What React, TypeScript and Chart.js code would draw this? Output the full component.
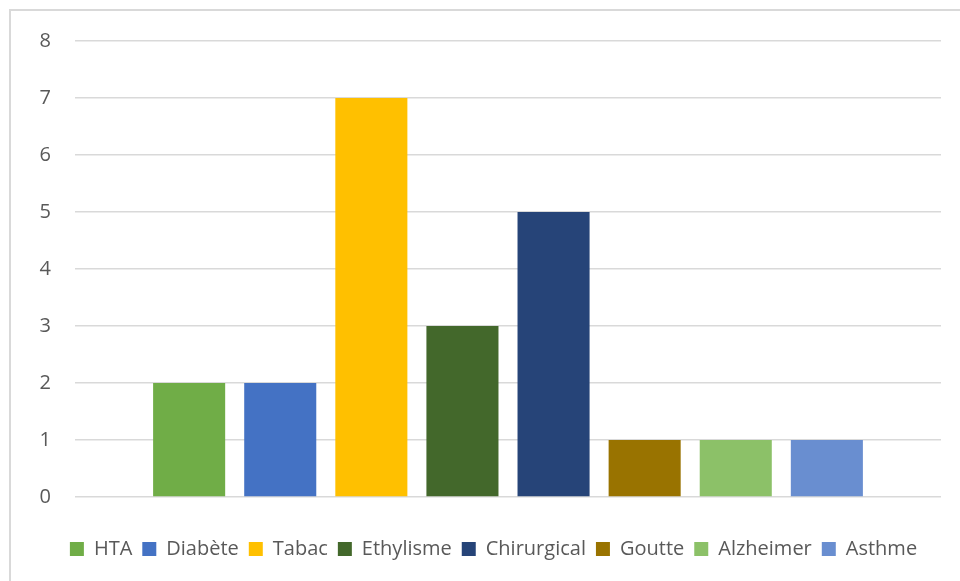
import React, { useEffect, useRef } from "react";
import { Chart, registerables } from "chart.js";

Chart.register(...registerables);

const categories = [""];
const seriesNames = ["HTA", "Diabète", "Tabac", "Ethylisme", "Chirurgical", "Goutte", "Alzheimer", "Asthme"];
const seriesValues = [2, 2, 7, 3, 5, 1, 1, 1];
const seriesColors = ["#70ad47", "#4472c4", "#ffc000", "#43682b", "#264478", "#997300", "#8cc168", "#698ed0"];
const yTicks = [0, 1, 2, 3, 4, 5, 6, 7, 8];

const TEXT = "#595959";
const GRID = "#d9d9d9";
const FONT = "'Open Sans', 'Noto Sans', sans-serif";

// Light frame along the top and left edges, plus legend row offset.
const framePlugin = {
  id: "frame",
  afterLayout(chart: any) {
    const lg = chart.legend;
    if (lg) {
      // nudge the legend row so it sits centred under the plot area
      lg.left += 23;
      lg.right += 23;
    }
  },
  beforeDraw(chart: Chart) {
    const { ctx } = chart;
    ctx.save();
    ctx.fillStyle = "#ffffff";
    ctx.fillRect(0, 0, chart.width, chart.height);
    ctx.fillStyle = GRID;
    ctx.fillRect(9, 9, chart.width - 9, 2);
    ctx.fillRect(9, 9, 2, chart.height - 9);
    ctx.restore();
  },
};

export default function App() {
  const canvasRef = useRef<HTMLCanvasElement | null>(null);

  useEffect(() => {
    const canvas = canvasRef.current;
    if (!canvas) return;
    const chart = new Chart(canvas, {
      type: "bar",
      data: {
        labels: categories,
        datasets: seriesNames.map((name, i) => ({
          label: name,
          data: [seriesValues[i]],
          backgroundColor: seriesColors[i],
          borderWidth: 0,
          categoryPercentage: 0.8416,
          barPercentage: 0.791,
        })),
      },
      options: {
        animation: false,
        responsive: false,
        maintainAspectRatio: false,
        layout: { padding: { left: 0, right: 19, top: 41, bottom: 12 } },
        plugins: {
          tooltip: { enabled: false },
          legend: {
            position: "bottom",
            // empty title used as a spacer between the plot and the legend row
            title: {
              display: true,
              text: "",
              font: { size: 10, lineHeight: 1.2 },
              padding: { top: 20, bottom: 0 },
            },
            labels: {
              boxWidth: 14,
              boxHeight: 14,
              padding: 10,
              color: TEXT,
              font: { family: FONT, size: 20 },
            },
          },
        },
        scales: {
          x: { display: false },
          y: {
            min: 0,
            max: 8,
            afterFit(scale: any) {
              scale.width = 75;
            },
            afterBuildTicks(scale: any) {
              scale.ticks = yTicks.map((v) => ({ value: v }));
            },
            border: { display: false },
            grid: { color: GRID, lineWidth: 1.5, drawTicks: false, tickLength: 0 },
            ticks: {
              color: TEXT,
              padding: 24,
              font: { family: FONT, size: 20 },
            },
          },
        },
      },
      plugins: [framePlugin],
    });
    return () => chart.destroy();
  }, []);

  return (
    <div style={{ position: "fixed", left: 0, top: 0, width: 960, height: 581, background: "#fff" }}>
      <canvas ref={canvasRef} width={960} height={581} style={{ display: "block", width: 960, height: 581 }} />
    </div>
  );
}
